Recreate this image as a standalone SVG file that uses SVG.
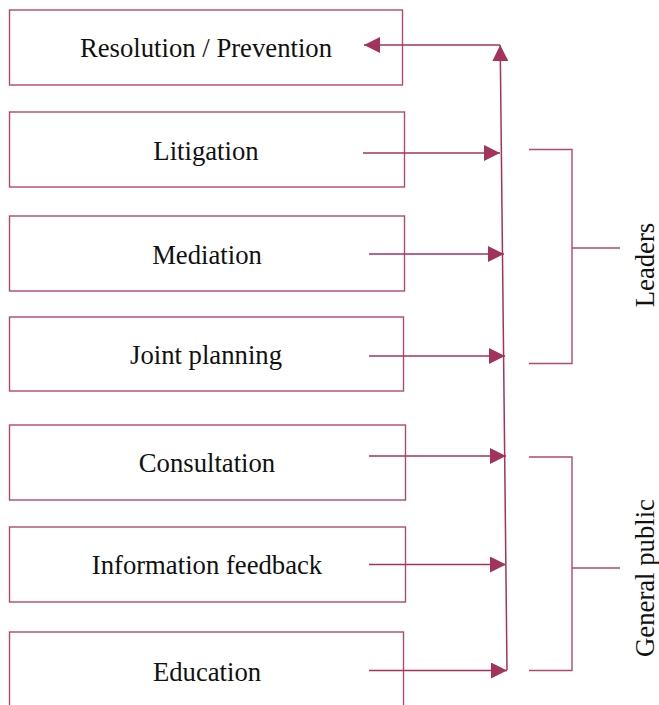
<svg xmlns="http://www.w3.org/2000/svg" width="659" height="705" viewBox="0 0 659 705">
<style>
.box{fill:#fff;stroke:#b04a72;stroke-width:1.4}
.lbl{font-family:"Liberation Serif","Times New Roman",serif;font-size:26.7px;fill:#111;text-anchor:middle}
.con{fill:none;stroke:#a3335d;stroke-width:1.5}
.brk{fill:none;stroke:#b04a72;stroke-width:1.4}
</style>
<defs>
<marker id="ah" viewBox="0 0 16 16" refX="16" refY="8" markerWidth="16" markerHeight="16" markerUnits="userSpaceOnUse" orient="auto">
<path d="M0,0 L16,8 L0,16 z" fill="#a3335d"/>
</marker>
</defs>
<rect width="659" height="705" fill="#fff"/>
<g id="resolution"><rect class="box" x="9.5" y="10" width="393" height="75"/><text class="lbl" x="206" y="57">Resolution / Prevention</text></g>
<g id="litigation"><rect class="box" x="9.5" y="112" width="395" height="75"/><text class="lbl" x="206" y="160">Litigation</text></g>
<g id="mediation"><rect class="box" x="9.5" y="216" width="395" height="75"/><text class="lbl" x="207" y="264">Mediation</text></g>
<g id="joint-planning"><rect class="box" x="9.5" y="317" width="394" height="74"/><text class="lbl" x="206" y="364">Joint planning</text></g>
<g id="consultation"><rect class="box" x="9.5" y="425" width="396" height="75"/><text class="lbl" x="207" y="472">Consultation</text></g>
<g id="information-feedback"><rect class="box" x="9.5" y="527" width="396" height="75"/><text class="lbl" x="207" y="574">Information feedback</text></g>
<g id="education"><rect class="box" x="9.5" y="632" width="394" height="90"/><text class="lbl" x="207" y="681">Education</text></g>
<g id="leaders"><path class="brk" d="M529,149.5 H572 V363.5 H529 M572,248 H620"/><text class="lbl" transform="translate(654,265) rotate(-90)">Leaders</text></g>
<g id="general-public"><path class="brk" d="M529,457 H572 V670.5 H529 M572,568 H620"/><text class="lbl" transform="translate(654,578) rotate(-90)">General public</text></g>
<g id="connectors">
<line class="con" x1="507" y1="670" x2="500.2" y2="45" marker-end="url(#ah)"/>
<line class="con" x1="500" y1="45" x2="364" y2="45" marker-end="url(#ah)"/>
<line class="con" x1="363" y1="153" x2="500" y2="153" marker-end="url(#ah)"/>
<line class="con" x1="369" y1="254" x2="504" y2="254" marker-end="url(#ah)"/>
<line class="con" x1="369" y1="356" x2="505" y2="356" marker-end="url(#ah)"/>
<line class="con" x1="369" y1="456" x2="506" y2="456" marker-end="url(#ah)"/>
<line class="con" x1="369" y1="564.5" x2="506" y2="564.5" marker-end="url(#ah)"/>
<line class="con" x1="369" y1="670.5" x2="507" y2="670.5" marker-end="url(#ah)"/>
</g>
</svg>
